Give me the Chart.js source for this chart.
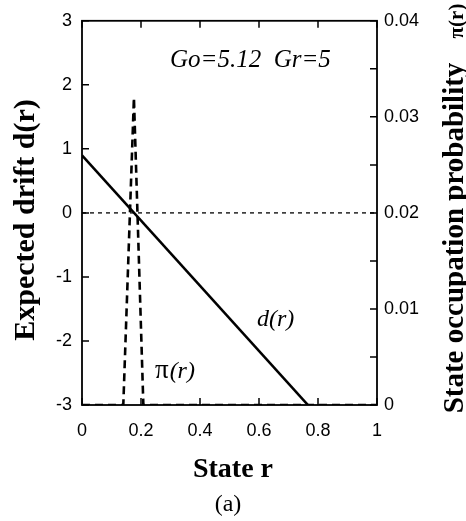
<!DOCTYPE html>
<html><head><meta charset="utf-8">
<script src="https://cdn.jsdelivr.net/npm/chart.js@4"></script>
<style>html,body{margin:0;padding:0;background:#fff}#wrap{width:466px;height:521px}</style>
</head><body><div id="wrap"><canvas id="c" width="466" height="521"></canvas></div>
<script>
// ---- data ----
const driftR = [0, 0.766];
const driftD = [0.9, -3.0];
const piR = [0, 0.14, 0.176, 0.208, 1];
const piP = [0, 0, 0.032, 0, 0];
const zeroR = [0, 1];
const zeroD = [0, 0];
const xTickVals = [0, 0.2, 0.4, 0.6, 0.8, 1];
const yTickVals = [-3, -2, -1, 0, 1, 2, 3];
const y2TickVals = [0, 0.005, 0.01, 0.015, 0.02, 0.025, 0.03, 0.035, 0.04];
const y2LabelVals = [0, 0.01, 0.02, 0.03, 0.04];

const pts = (xs, ys) => xs.map((x, i) => ({x: x, y: ys[i]}));
const SANS = '"Liberation Sans", Arial, sans-serif';
const SERIF = '"Liberation Serif", "Times New Roman", serif';

const framePlugin = {
  id: 'frame',
  beforeDatasetsDraw(chart) {
    const {ctx, chartArea: a, scales} = chart;
    ctx.save();
    ctx.strokeStyle = '#000';
    ctx.lineWidth = 1.8;
    ctx.strokeRect(a.left, a.top, a.right - a.left, a.bottom - a.top);
    ctx.lineWidth = 1.5;
    const L = 7;
    ctx.beginPath();
    xTickVals.forEach(v => {
      const px = scales.x.getPixelForValue(v);
      ctx.moveTo(px, a.bottom); ctx.lineTo(px, a.bottom - L);
      ctx.moveTo(px, a.top); ctx.lineTo(px, a.top + L);
    });
    yTickVals.forEach(v => {
      const py = scales.y.getPixelForValue(v);
      ctx.moveTo(a.left, py); ctx.lineTo(a.left + L, py);
    });
    y2TickVals.forEach(v => {
      const py = scales.y1.getPixelForValue(v);
      ctx.moveTo(a.right, py); ctx.lineTo(a.right - L, py);
    });
    ctx.stroke();
    ctx.restore();
  },
  afterDraw(chart) {
    const {ctx} = chart;
    ctx.save();
    ctx.fillStyle = '#000';
    ctx.textBaseline = 'alphabetic';
    // annotation
    ctx.textAlign = 'left';
    ctx.font = 'italic 25px ' + SERIF;
    ctx.fillText('Go=5.12  Gr=5', 170, 67);
    ctx.font = 'italic 24px ' + SERIF;
    ctx.fillText('d(r)', 257, 326);
    ctx.font = '27px ' + SERIF;
    ctx.fillText('\u03C0', 155, 378);
    const w = ctx.measureText('\u03C0').width;
    ctx.font = 'italic 24px ' + SERIF;
    ctx.fillText('(r)', 155 + w + 1, 378);
    // x title
    ctx.textAlign = 'center';
    ctx.font = 'bold 28px ' + SERIF;
    ctx.fillText('State r', 233, 477);
    ctx.font = '24px ' + SERIF;
    ctx.fillText('(a)', 228, 511);
    // left title
    ctx.save();
    ctx.translate(34, 220);
    ctx.rotate(-Math.PI / 2);
    ctx.font = 'bold 30px ' + SERIF;
    ctx.textAlign = 'center';
    ctx.fillText('Expected drift d(r)', 0, 0);
    ctx.restore();
    // right title
    ctx.save();
    ctx.translate(463, 238);
    ctx.rotate(-Math.PI / 2);
    ctx.font = 'bold 29px ' + SERIF;
    ctx.textAlign = 'center';
    ctx.fillText('State occupation probability', 0, 0);
    ctx.restore();
    ctx.save();
    ctx.translate(463, 21);
    ctx.rotate(-Math.PI / 2);
    ctx.font = 'bold 21px ' + SERIF;
    ctx.textAlign = 'center';
    ctx.fillText('\u03C0(r)', 0, 0);
    ctx.restore();
    ctx.restore();
  }
};

new Chart(document.getElementById('c'), {
  type: 'line',
  data: {
    datasets: [
      {data: pts(driftR, driftD), yAxisID: 'y', borderColor: '#000', borderWidth: 2.6, pointRadius: 0, tension: 0},
      {data: pts(zeroR, zeroD), yAxisID: 'y', borderColor: '#000', borderWidth: 1.3, borderDash: [4, 4], pointRadius: 0},
      {data: pts(piR, piP), yAxisID: 'y1', borderColor: '#000', borderWidth: 2.6, borderDash: [8, 5], pointRadius: 0, tension: 0}
    ]
  },
  options: {
    responsive: false,
    animation: false,
    devicePixelRatio: 1,
    layout: {padding: {top: 19, left: 0, right: 0, bottom: 0}},
    plugins: {legend: {display: false}, tooltip: {enabled: false}},
    scales: {
      x: {
        type: 'linear', position: 'bottom', min: 0, max: 1,
        grid: {display: false, drawTicks: false}, border: {display: false},
        afterBuildTicks: s => { s.ticks = xTickVals.map(v => ({value: v})); },
        afterFit: s => { s.height = 116; },
        ticks: {color: '#000', font: {family: SANS, size: 18}, padding: 15, maxRotation: 0, callback: v => String(v)}
      },
      y: {
        type: 'linear', position: 'left', min: -3, max: 3,
        grid: {display: false, drawTicks: false}, border: {display: false},
        afterBuildTicks: s => { s.ticks = yTickVals.map(v => ({value: v})); },
        afterFit: s => { s.width = 82; },
        ticks: {color: '#000', font: {family: SANS, size: 18}, padding: 10, callback: v => String(v)}
      },
      y1: {
        type: 'linear', position: 'right', min: 0, max: 0.04,
        grid: {display: false, drawTicks: false}, border: {display: false},
        afterBuildTicks: s => { s.ticks = y2LabelVals.map(v => ({value: v})); },
        afterFit: s => { s.width = 89; },
        ticks: {color: '#000', font: {family: SANS, size: 18}, padding: 7, callback: v => String(v)}
      }
    }
  },
  plugins: [framePlugin]
});
</script></body></html>
